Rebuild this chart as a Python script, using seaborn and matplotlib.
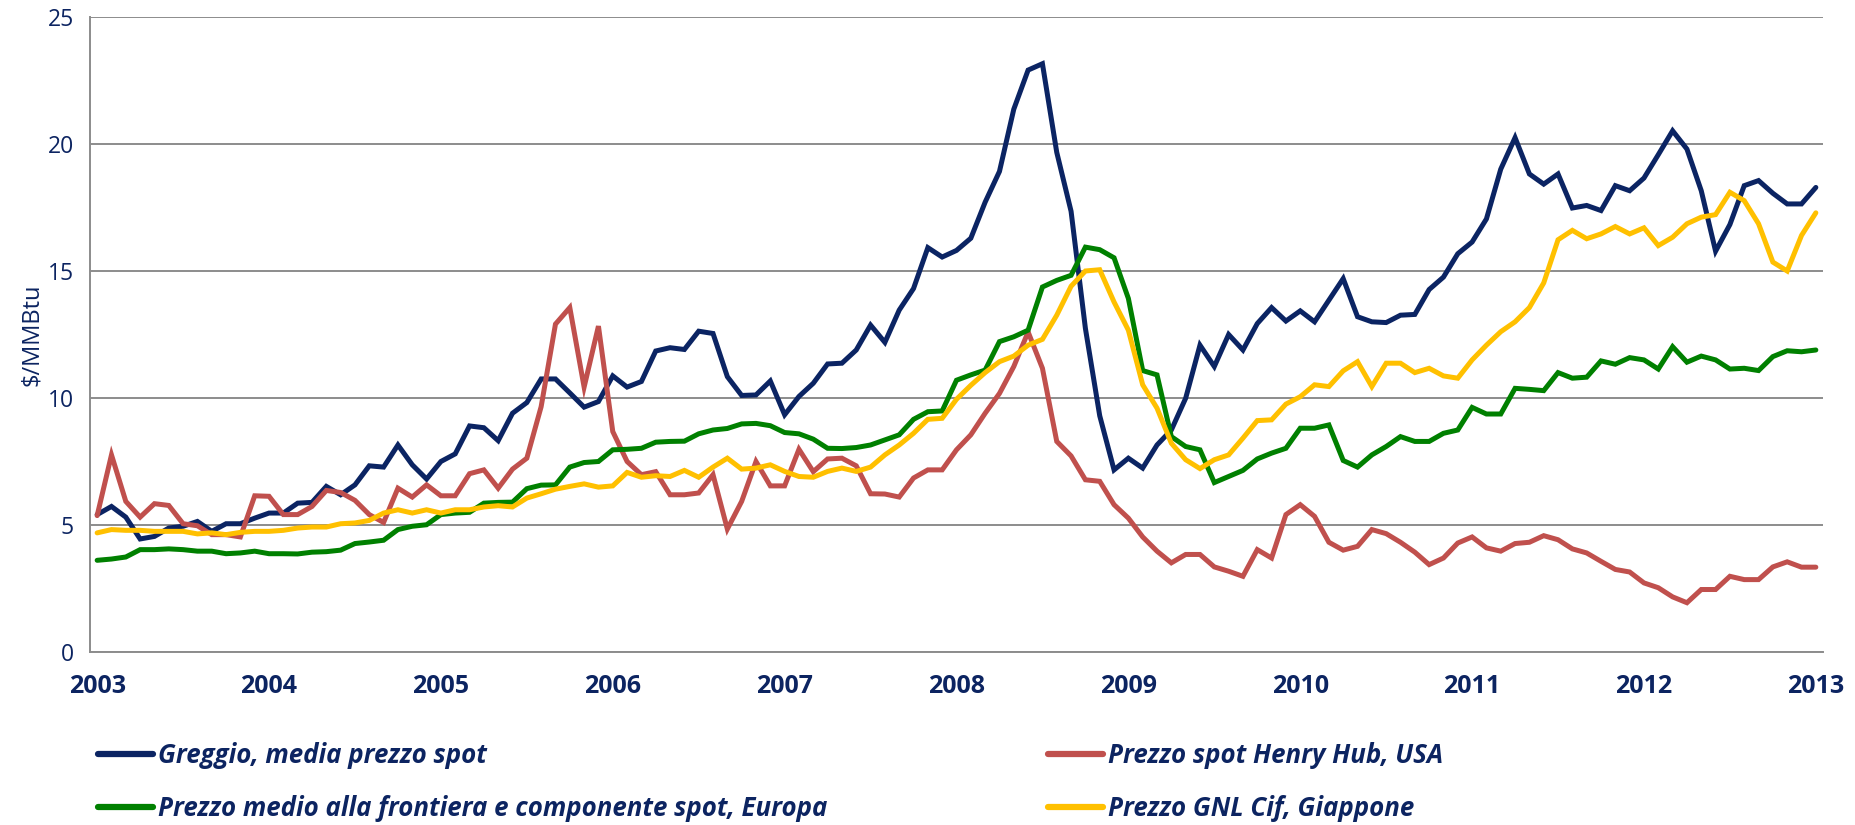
import numpy as np
import pandas as pd
import matplotlib
matplotlib.use("Agg")
import matplotlib.pyplot as plt
import seaborn as sns

# ---------------- data (monthly, Jan 2003 .. Jan 2013) ----------------
years = [str(y) for y in range(2003, 2014)]

greggio = [5.41, 5.73, 5.31, 4.45, 4.55, 4.88, 4.95, 5.14, 4.75, 5.05, 5.05, 5.27,
           5.47, 5.47, 5.86, 5.89, 6.52, 6.19, 6.58, 7.33, 7.28, 8.15, 7.37, 6.81,
           7.50, 7.80, 8.90, 8.83, 8.32, 9.40, 9.82, 10.75, 10.75, 10.20, 9.64, 9.86,
           10.87, 10.43, 10.65, 11.85, 11.98, 11.91, 12.63, 12.54, 10.84, 10.10, 10.12, 10.67,
           9.34, 10.06, 10.58, 11.34, 11.37, 11.89, 12.87, 12.19, 13.46, 14.31, 15.92, 15.55,
           15.81, 16.29, 17.71, 18.92, 21.37, 22.91, 23.16, 19.67, 17.35, 12.74, 9.30, 7.17,
           7.63, 7.24, 8.15, 8.74, 9.99, 12.08, 11.24, 12.50, 11.89, 12.93, 13.56, 13.03,
           13.43, 13.00, 13.85, 14.70, 13.20, 13.00, 12.97, 13.26, 13.29, 14.27, 14.76, 15.68,
           16.14, 17.05, 19.01, 20.25, 18.82, 18.42, 18.82, 17.48, 17.58, 17.38, 18.36, 18.16,
           18.66, 19.58, 20.52, 19.80, 18.16, 15.78, 16.83, 18.36, 18.56, 18.06, 17.64, 17.64,
           18.29]

henry_hub = [5.37, 7.76, 5.93, 5.31, 5.84, 5.77, 5.05, 4.97, 4.62, 4.62, 4.53, 6.15,
             6.13, 5.41, 5.41, 5.73, 6.36, 6.28, 5.97, 5.41, 5.10, 6.45, 6.10, 6.58,
             6.15, 6.15, 7.02, 7.17, 6.45, 7.20, 7.63, 9.66, 12.91, 13.56, 10.43, 12.83,
             8.68, 7.50, 6.98, 7.10, 6.19, 6.19, 6.26, 6.98, 4.84, 5.93, 7.50, 6.54,
             6.54, 7.98, 7.10, 7.60, 7.63, 7.33, 6.23, 6.22, 6.10, 6.85, 7.17, 7.17,
             7.96, 8.55, 9.40, 10.18, 11.24, 12.60, 11.17, 8.29, 7.72, 6.78, 6.72, 5.80,
             5.27, 4.53, 3.97, 3.51, 3.84, 3.84, 3.35, 3.18, 2.98, 4.03, 3.70, 5.41,
             5.80, 5.34, 4.32, 4.01, 4.16, 4.82, 4.66, 4.32, 3.93, 3.44, 3.70, 4.29,
             4.53, 4.10, 3.97, 4.27, 4.32, 4.58, 4.42, 4.06, 3.90, 3.57, 3.25, 3.15,
             2.72, 2.53, 2.17, 1.94, 2.46, 2.46, 2.98, 2.85, 2.85, 3.35, 3.55, 3.34,
             3.34]

europa = [3.61, 3.66, 3.74, 4.03, 4.03, 4.06, 4.03, 3.97, 3.97, 3.87, 3.90, 3.97,
          3.87, 3.87, 3.86, 3.93, 3.95, 4.01, 4.27, 4.33, 4.40, 4.82, 4.95, 5.01,
          5.41, 5.47, 5.50, 5.86, 5.89, 5.90, 6.43, 6.57, 6.58, 7.28, 7.46, 7.50,
          7.96, 7.98, 8.02, 8.26, 8.29, 8.30, 8.59, 8.74, 8.80, 8.98, 9.00, 8.91,
          8.64, 8.59, 8.38, 8.02, 8.01, 8.05, 8.15, 8.35, 8.55, 9.16, 9.46, 9.49,
          10.70, 10.91, 11.10, 12.22, 12.41, 12.67, 14.37, 14.63, 14.83, 15.94, 15.84, 15.52,
          13.92, 11.08, 10.91, 8.48, 8.09, 7.96, 6.67, 6.91, 7.15, 7.60, 7.83, 8.02,
          8.81, 8.81, 8.94, 7.54, 7.28, 7.76, 8.09, 8.48, 8.29, 8.29, 8.61, 8.74,
          9.63, 9.37, 9.37, 10.38, 10.34, 10.29, 11.00, 10.78, 10.82, 11.46, 11.33, 11.59,
          11.50, 11.14, 12.02, 11.41, 11.65, 11.50, 11.14, 11.17, 11.08, 11.63, 11.86, 11.82,
          11.89]

giappone = [4.69, 4.82, 4.79, 4.79, 4.75, 4.75, 4.75, 4.65, 4.69, 4.62, 4.71, 4.75,
            4.75, 4.79, 4.88, 4.92, 4.92, 5.05, 5.08, 5.18, 5.47, 5.60, 5.47, 5.60,
            5.47, 5.60, 5.60, 5.71, 5.76, 5.71, 6.06, 6.23, 6.41, 6.52, 6.62, 6.49,
            6.54, 7.07, 6.88, 6.94, 6.91, 7.15, 6.88, 7.28, 7.63, 7.20, 7.24, 7.37,
            7.11, 6.91, 6.88, 7.11, 7.24, 7.11, 7.28, 7.76, 8.15, 8.61, 9.16, 9.20,
            9.95, 10.50, 11.00, 11.43, 11.65, 12.08, 12.31, 13.26, 14.40, 15.00, 15.05, 13.78,
            12.67, 10.52, 9.60, 8.22, 7.57, 7.22, 7.57, 7.76, 8.42, 9.11, 9.14, 9.76,
            10.05, 10.52, 10.45, 11.07, 11.43, 10.45, 11.37, 11.37, 11.00, 11.17, 10.87, 10.78,
            11.50, 12.08, 12.61, 13.00, 13.56, 14.53, 16.23, 16.60, 16.27, 16.46, 16.75, 16.46,
            16.70, 16.00, 16.33, 16.86, 17.12, 17.22, 18.10, 17.77, 16.86, 15.35, 15.00, 16.40,
            17.29]

series_names = ["Greggio, media prezzo spot",
                "Prezzo spot Henry Hub, USA",
                "Prezzo medio alla frontiera e componente spot, Europa",
                "Prezzo GNL Cif, Giappone"]
series_values = [greggio, henry_hub, europa, giappone]
colors = ["#0B2463", "#C0504D", "#008000", "#FFC000"]

# ---------------- build long table ----------------
n = len(greggio)
month_idx = np.arange(n)
df = pd.concat([pd.DataFrame({"mese": month_idx, "valore": v, "serie": s})
                for s, v in zip(series_names, series_values)], ignore_index=True)

# ---------------- style ----------------
sns.set_theme(style="white")
FONT = ["Open Sans", "DejaVu Sans"]
plt.rcParams["font.family"] = FONT
navy = "#0C2461"
grid_gray = "#8C8C8C"

fig = plt.figure(figsize=(18.56, 8.25), dpi=100)
ax = fig.add_axes([90 / 1856, 1 - 652 / 825, (1823 - 90) / 1856, (652 - 17) / 825])

sns.lineplot(data=df, x="mese", y="valore", hue="serie", hue_order=series_names,
             palette=dict(zip(series_names, colors)), linewidth=3.6, ax=ax,
             legend=True, solid_capstyle="round", solid_joinstyle="miter")

ax.set_xlim(-0.5, n - 0.5)
ax.set_ylim(0, 25)
ax.set_yticks(range(0, 26, 5))
ax.set_xticks(range(0, n, 12))
ax.set_xticklabels(years, fontsize=18, fontweight="bold", color=navy)
ax.set_xticks(np.arange(-0.5, n, 1), minor=True)
ax.tick_params(axis="x", which="major", length=0, pad=16)
ax.tick_params(axis="x", which="minor", length=6.5, width=1.3, color=grid_gray, direction="out")
ax.tick_params(axis="y", which="major", length=5.5, width=1.3, color=grid_gray, direction="out",
               labelsize=16.5, labelcolor=navy, pad=6)
ax.set_xlabel("")
ax.set_ylabel("$/MMBtu", fontsize=17, color=navy, labelpad=3)

ax.yaxis.grid(True, color=grid_gray, linewidth=1.4)
ax.xaxis.grid(False)
ax.set_axisbelow(True)
for side in ["top", "right"]:
    ax.spines[side].set_visible(False)
for side in ["left", "bottom"]:
    ax.spines[side].set_color(grid_gray)
    ax.spines[side].set_linewidth(1.4)

# ---------------- legend (two columns) ----------------
handles, labels = ax.get_legend_handles_labels()
ax.get_legend().remove()
hmap = dict(zip(labels, handles))
for h in handles:
    h.set_linewidth(4.5)
prop = dict(family=FONT, weight="bold", style="italic", size=18.6)
common = dict(frameon=False, prop=prop, labelcolor=navy, handlelength=2.13,
              handletextpad=0.2, labelspacing=1.0, borderpad=0, borderaxespad=0,
              loc="center left")
fig.legend([hmap[series_names[0]], hmap[series_names[2]]],
           [series_names[0], series_names[2]],
           bbox_to_anchor=(98 / 1856, 1 - 782 / 825), **common)
fig.legend([hmap[series_names[1]], hmap[series_names[3]]],
           [series_names[1], series_names[3]],
           bbox_to_anchor=(1048 / 1856, 1 - 782 / 825), **common)

fig.savefig("out.png", dpi=100)
